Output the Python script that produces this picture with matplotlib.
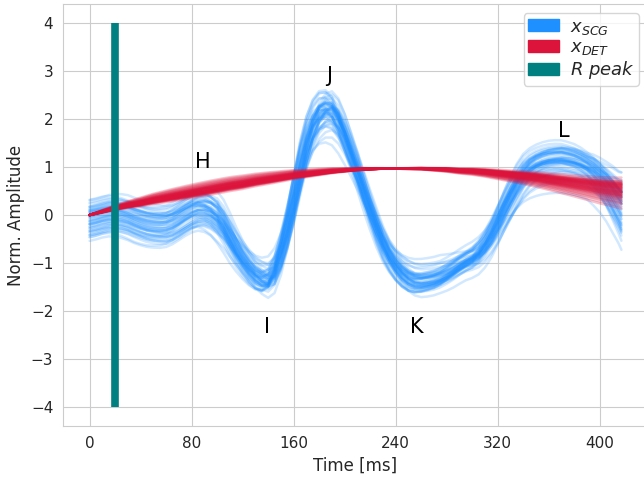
import numpy as np
import matplotlib
matplotlib.use("Agg")
import matplotlib.pyplot as plt
import seaborn as sns
from matplotlib.patches import Patch

# ---- data ----
time_ms = list(range(0, 416, 5)) + [417]

# mean SCG beat shape (5 ms grid)
scg_mean = [-0.07, -0.04, 0.00, 0.03, 0.03, 0.01, -0.03, -0.09, -0.14, -0.18,
            -0.20, -0.21, -0.20, -0.15, -0.07, 0.02, 0.10, 0.15, 0.14, 0.08,
            -0.03, -0.22, -0.47, -0.72, -0.94, -1.13, -1.28, -1.37, -1.38, -1.20,
            -0.80, -0.28, 0.32, 0.95, 1.50, 1.90, 2.15, 2.25, 2.22, 2.02,
            1.70, 1.33, 0.94, 0.52, 0.12, -0.26, -0.60, -0.87, -1.08, -1.24,
            -1.35, -1.41, -1.42, -1.40, -1.37, -1.32, -1.25, -1.17, -1.08, -1.00,
            -0.93, -0.82, -0.65, -0.43, -0.17, 0.11, 0.38, 0.63, 0.84, 0.98,
            1.07, 1.13, 1.17, 1.19, 1.20, 1.18, 1.15, 1.10, 1.03, 0.93,
            0.80, 0.64, 0.45, 0.25,
            0.17]
# shapes of beat-to-beat variation (early baseline and late L-wave spread)
scg_early_dev = ([1.0] * 21
                 + [0.85, 0.7, 0.55, 0.45, 0.37, 0.3, 0.27, 0.25, 0.22]
                 + [0.2] * 55)
scg_late_dev = ([0.0] * 56
                + [0.1, 0.2, 0.3, 0.4, 0.5, 0.6, 0.7, 0.78, 0.85, 0.92]
                + [1.0] * 13
                + [1.15, 1.3, 1.5, 1.8, 2.1, 2.3])

# per-beat amplitude, offsets and timing jitter (ms)
beat_scale = [1.00, 0.92, 1.08, 0.85, 1.12, 0.97, 0.88, 1.04, 0.95, 1.10,
              0.72, 1.02, 0.93, 1.06, 0.90, 0.99, 1.14, 0.87, 1.01, 0.96,
              0.66, 1.05, 0.94, 1.09, 0.91, 0.98, 0.82, 1.03, 1.11, 0.89,
              1.00, 0.95, 1.07, 0.80, 0.97, 1.02, 0.92, 1.16, 0.88, 0.99,
              1.04, 0.90, 0.96, 1.08, 0.94, 1.01, 0.76, 1.06, 0.93, 0.98]
beat_early = [0.06, -0.14, 0.22, -0.30, 0.02, 0.12, -0.36, -0.06, 0.26, -0.18,
              0.00, -0.42, 0.14, -0.10, 0.32, -0.24, 0.07, -0.02, 0.18, -0.34,
              0.10, -0.12, 0.40, -0.22, 0.04, -0.48, 0.17, -0.07, 0.24, -0.26,
              -0.04, 0.11, -0.38, 0.20, -0.16, 0.05, 0.30, -0.31, 0.13, -0.11,
              0.01, -0.19, 0.23, -0.05, 0.08, -0.29, 0.16, -0.13, 0.36, -0.23]
beat_late = [0.10, -0.15, 0.05, 0.20, -0.25, 0.00, 0.15, -0.08, -0.30, 0.12,
             0.25, -0.05, -0.18, 0.08, 0.02, -0.22, 0.18, 0.30, -0.12, 0.04,
             -0.35, 0.14, -0.02, 0.22, -0.10, 0.06, -0.28, 0.16, -0.06, 0.09,
             0.20, -0.20, 0.03, -0.14, 0.27, -0.04, 0.11, -0.24, 0.07, 0.13,
             -0.16, 0.01, 0.24, -0.09, 0.17, -0.01, -0.26, 0.05, 0.12, -0.07]
beat_shift = [1.5, -2.0, 3.0, -0.5, -3.5, 2.5, 0.0, -1.5, 4.0, -2.5,
              1.0, -4.5, 2.0, 0.5, -1.0, 3.5, -3.0, 1.5, -0.5, 2.5,
              -2.0, 0.0, 4.5, -3.5, 1.0, -1.5, 3.0, -0.5, -2.5, 2.0,
              0.5, -4.0, 1.5, -1.0, 3.5, -2.0, 0.0, 2.5, -3.0, 1.0,
              -0.5, 4.0, -1.5, 2.0, -2.5, 0.5, 3.0, -1.0, -3.5, 1.5]

# detrend curves (5 ms grid)
det_mean = [0.000, 0.035, 0.070, 0.105, 0.140, 0.170, 0.200, 0.225, 0.250, 0.280,
            0.310, 0.335, 0.360, 0.385, 0.410, 0.435, 0.460, 0.485, 0.510, 0.535,
            0.560, 0.585, 0.610, 0.630, 0.650, 0.675, 0.700, 0.720, 0.740, 0.760,
            0.780, 0.800, 0.820, 0.835, 0.850, 0.865, 0.880, 0.895, 0.910, 0.920,
            0.930, 0.940, 0.950, 0.955, 0.960, 0.965, 0.970, 0.970, 0.970, 0.970,
            0.970, 0.970, 0.970, 0.965, 0.960, 0.955, 0.950, 0.940, 0.930, 0.925,
            0.920, 0.910, 0.900, 0.885, 0.870, 0.855, 0.840, 0.825, 0.810, 0.795,
            0.780, 0.760, 0.740, 0.720, 0.700, 0.680, 0.660, 0.640, 0.620, 0.600,
            0.580, 0.565, 0.550, 0.535,
            0.530]
det_dev = [0.000, -0.040, -0.080, -0.115, -0.150, -0.185, -0.215, -0.250, -0.280, -0.305,
           -0.330, -0.350, -0.370, -0.390, -0.405, -0.420, -0.430, -0.440, -0.445, -0.450,
           -0.450, -0.450, -0.445, -0.440, -0.430, -0.415, -0.400, -0.385, -0.370, -0.350,
           -0.330, -0.310, -0.290, -0.265, -0.245, -0.220, -0.200, -0.175, -0.155, -0.130,
           -0.110, -0.090, -0.075, -0.060, -0.040, -0.030, -0.015, -0.005, 0.000, 0.020,
           0.030, 0.040, 0.050, 0.065, 0.085, 0.100, 0.120, 0.140, 0.160, 0.180,
           0.200, 0.225, 0.250, 0.275, 0.300, 0.325, 0.355, 0.380, 0.410, 0.440,
           0.475, 0.505, 0.540, 0.575, 0.610, 0.645, 0.680, 0.720, 0.760, 0.800,
           0.840, 0.880, 0.920, 0.975,
           1.000]
det_offset = [0.05, -0.10, 0.12, -0.20, 0.00, 0.08, -0.05, -0.30, 0.15, -0.12,
              0.03, -0.08, 0.10, -0.15, 0.20, -0.02, -0.40, 0.06, -0.18, 0.14,
              -0.06, 0.02, -0.25, 0.11, -0.04, 0.17, -0.12, 0.07, -0.35, 0.09,
              -0.01, 0.13, -0.16, 0.04, 0.25, -0.09, 0.01, -0.22, 0.08, -0.03,
              0.16, -0.14, 0.05, -0.07, 0.10, -0.28, 0.03, -0.11, 0.12, -0.05]

r_peak_ms = 20
wave_labels = ["H", "I", "J", "K", "L"]
wave_label_pos = [(88.6, 1.10), (138.8, -2.33), (187.5, 2.90), (256.5, -2.33), (371.8, 1.75)]

# ---- plot ----
sns.set_style("whitegrid")
plt.rcParams['font.family'] = ['DejaVu Sans']

fig = plt.figure(figsize=(6.44, 4.79), dpi=100)
ax = fig.add_axes([63 / 644, 53 / 479, (648 - 63) / 644, 422 / 479])

t = np.array(time_ms, dtype=float)
m = np.array(scg_mean)
dm = np.gradient(m, t)
de = np.array(scg_early_dev)
dl = np.array(scg_late_dev)
rm = np.array(det_mean)
rd = np.array(det_dev)

blue = "#1e90ff"
red = "#dc143c"
for k in range(len(beat_scale)):
    y = (m - beat_shift[k] * dm) * beat_scale[k] + beat_early[k] * de + beat_late[k] * dl
    ax.plot(t, y, color=blue, alpha=0.2, lw=1.8, zorder=2)
    r = rm + det_offset[k] * rd
    ax.plot(t, r, color=red, alpha=0.25, lw=1.8, zorder=3)

ax.vlines(r_peak_ms, -4, 4, color="teal", lw=5.5, zorder=5)

for lab, (xx, yy) in zip(wave_labels, wave_label_pos):
    ax.text(xx, yy, lab, fontsize=15, ha="center", va="center", color="black", zorder=6)

ax.set_xlim(-20.85, 437.85)
ax.set_ylim(-4.4, 4.4)
ax.set_xticks([0, 80, 160, 240, 320, 400])
ax.set_yticks([-4, -3, -2, -1, 0, 1, 2, 3, 4])
ax.tick_params(labelsize=11)
ax.set_xlabel("Time [ms]", fontsize=12)
ax.set_ylabel("Norm. Amplitude", fontsize=12)

handles = [Patch(facecolor=blue, edgecolor=blue),
           Patch(facecolor=red, edgecolor=red),
           Patch(facecolor="teal", edgecolor="teal")]
leg = ax.legend(handles, [r"$x_{SCG}$", r"$x_{DET}$", r"$R\ peak$"],
                loc="upper right", fontsize=13, handlelength=1.7,
                handleheight=0.6, labelspacing=0.1, handletextpad=0.6,
                borderpad=0.25, framealpha=0.8)
leg.set_zorder(10)

fig.savefig("out.png", dpi=100)
